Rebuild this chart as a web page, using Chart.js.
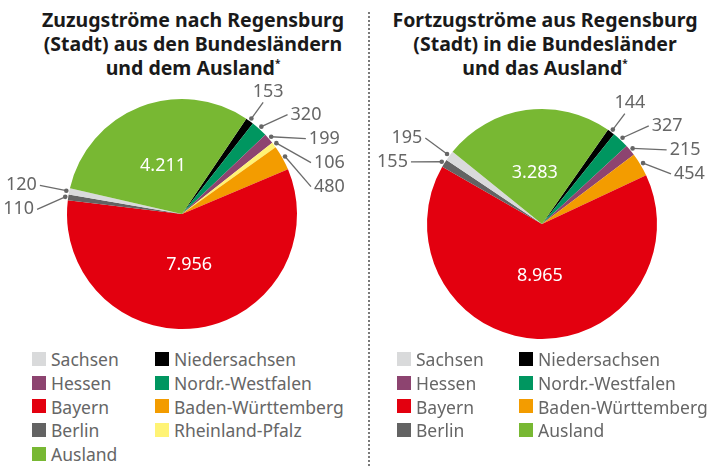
<!DOCTYPE html>
<html lang="de">
<head>
<meta charset="UTF-8">
<title>Zuzüge und Fortzüge Regensburg</title>
<script src="https://cdn.jsdelivr.net/npm/chart.js"></script>
<style>
  body { margin: 0; background: #fff; font-family: "Noto Sans", sans-serif; }
  .page { position: relative; width: 710px; height: 466px; overflow: hidden; }
  .title { position: absolute; top: 8px; font-weight: bold; font-size: 19.5px; line-height: 24px;
           color: #1a1a1a; text-align: center; }
  .title sup { font-size: 10px; vertical-align: 8px; line-height: 0; }
  .sep { position: absolute; left: 368px; top: 12px; bottom: 0; border-left: 2px dotted #7a7a7a; }
  canvas { position: absolute; }
  .legend { position: absolute; top: 347px; display: grid; grid-auto-rows: 23.8px;
            font-size: 17.5px; color: #666; }
  .legend div { display: flex; align-items: center; white-space: nowrap; }
  .legend span { display: inline-block; width: 14px; height: 14px; margin-right: 5px; }
</style>
</head>
<body>
<div class="page">
  <div class="title" style="left:0; width:386px;">Zuzugströme nach Regensburg<br>(Stadt) aus den Bundesländern<br>und dem Ausland<sup>*</sup></div>
  <div class="title" style="left:380px; width:330px;">Fortzugströme aus Regensburg<br>(Stadt) in die Bundesländer<br>und das Ausland<sup>*</sup></div>
  <div class="sep"></div>
  <canvas id="zuzug" width="364" height="260" style="left:0; top:84px;"></canvas>
  <canvas id="fortzug" width="350" height="260" style="left:360px; top:94px;"></canvas>
  <div class="legend" id="legendZuzug" style="left:32px; grid-template-columns:123px auto;"></div>
  <div class="legend" id="legendFortzug" style="left:397px; grid-template-columns:122px auto;"></div>
</div>
<script>
// Daten: Zuzüge nach Regensburg (Reihenfolge der Tortenstücke im Uhrzeigersinn)
const sliceOrderZuzug = ['Niedersachsen', 'Nordr.-Westfalen', 'Hessen', 'Rheinland-Pfalz', 'Baden-Württemberg', 'Bayern', 'Berlin', 'Sachsen', 'Ausland'];
const valuesZuzug = [153, 320, 199, 106, 480, 7956, 110, 120, 4211];

// Daten: Fortzüge aus Regensburg
const sliceOrderFortzug = ['Niedersachsen', 'Nordr.-Westfalen', 'Hessen', 'Baden-Württemberg', 'Bayern', 'Berlin', 'Sachsen', 'Ausland'];
const valuesFortzug = [144, 327, 215, 454, 8965, 155, 195, 3283];

// Legenden (zeilenweise, zwei Spalten)
const legendZuzug = ['Sachsen', 'Niedersachsen', 'Hessen', 'Nordr.-Westfalen', 'Bayern', 'Baden-Württemberg', 'Berlin', 'Rheinland-Pfalz', 'Ausland'];
const legendFortzug = ['Sachsen', 'Niedersachsen', 'Hessen', 'Nordr.-Westfalen', 'Bayern', 'Baden-Württemberg', 'Berlin', 'Ausland'];

const colors = {
  'Sachsen': '#d9dadb',
  'Niedersachsen': '#000000',
  'Hessen': '#8d4470',
  'Nordr.-Westfalen': '#009660',
  'Bayern': '#e3000f',
  'Baden-Württemberg': '#f39c00',
  'Berlin': '#636363',
  'Rheinland-Pfalz': '#fff375',
  'Ausland': '#78b833'
};

const fmt = v => String(v).replace(/\B(?=(\d{3})+(?!\d))/g, '.');

// Beschriftungen: große Stücke innen, kleine außen mit Führungslinie
const labelPlugin = {
  id: 'pieLabels',
  afterDatasetsDraw(chart) {
    const ctx = chart.ctx;
    const arcs = chart.getDatasetMeta(0).data;
    const values = chart.data.datasets[0].data;
    const total = values.reduce((a, b) => a + b, 0);
    const right = [], left = [];
    ctx.save();
    arcs.forEach((arc, i) => {
      const p = arc.getProps(['x', 'y', 'startAngle', 'endAngle', 'outerRadius'], true);
      const mid = (p.startAngle + p.endAngle) / 2;
      const r = p.outerRadius;
      if (values[i] / total > 0.15) {
        ctx.fillStyle = '#fff';
        ctx.font = '18px "Noto Sans"';
        ctx.textAlign = 'center';
        ctx.textBaseline = 'middle';
        ctx.fillText(fmt(values[i]), p.x + 0.45 * r * Math.cos(mid), p.y + 0.45 * r * Math.sin(mid));
        return;
      }
      const item = { p, mid, r, text: fmt(values[i]),
        dx: p.x + (r + 3) * Math.cos(mid), dy: p.y + (r + 3) * Math.sin(mid) };
      let fromTop = (mid + Math.PI / 2) % (2 * Math.PI);
      if (fromTop < 0) fromTop += 2 * Math.PI;
      item.fromTop = fromTop;
      if (Math.cos(mid) >= 0) right.push(item); else left.push(item);
    });

    ctx.strokeStyle = '#6b6b6b';
    ctx.fillStyle = '#666';
    ctx.lineWidth = 1.3;
    const drawLeader = (it, ex, ey) => {
      ctx.beginPath();
      ctx.moveTo(it.dx, it.dy);
      ctx.lineTo(ex, ey);
      ctx.stroke();
      ctx.beginPath();
      ctx.arc(it.dx, it.dy, 2.3, 0, 2 * Math.PI);
      ctx.fill();
    };
    ctx.font = '18px "Noto Sans"';
    ctx.textBaseline = 'middle';

    // rechte Seite
    right.sort((a, b) => a.fromTop - b.fromTop);
    let lastY = -Infinity;
    right.forEach(it => {
      const { p, r } = it;
      if (it.fromTop < 40 * Math.PI / 180) {
        const ex = p.x + (r + 23) * Math.cos(it.mid);
        const ey = p.y + (r + 23) * Math.sin(it.mid);
        drawLeader(it, ex, ey);
        ctx.textAlign = 'center';
        ctx.fillText(it.text, ex + 5, ey - 11);
        return;
      }
      let y = p.y + (r + 22) * Math.sin(it.mid) + 2;
      y = Math.max(y, lastY + 24);
      lastY = y;
      const dyc = y - p.y;
      const R2 = r + 30;
      const ex = Math.min(p.x + Math.sqrt(Math.max(R2 * R2 - dyc * dyc, 0)), p.x + r + 14);
      drawLeader(it, ex, y);
      ctx.textAlign = 'left';
      ctx.fillText(it.text, ex + 3, y);
    });

    // linke Seite
    left.forEach(it => { it.ny = it.p.y + (it.r + 30) * Math.sin(it.mid); });
    left.sort((a, b) => a.ny - b.ny);
    lastY = -Infinity;
    left.forEach(it => {
      const { p, r } = it;
      const y = Math.max(it.ny, lastY + 24);
      lastY = y;
      const dyc = y - p.y;
      const R2 = r + 30;
      const ex = p.x - Math.sqrt(Math.max(R2 * R2 - dyc * dyc, 0));
      drawLeader(it, ex, y);
      ctx.textAlign = 'right';
      ctx.fillText(it.text, ex - 3, y);
    });
    ctx.restore();
  }
};

function makePie(id, cats, vals, rotation, padding) {
  return new Chart(document.getElementById(id), {
    type: 'pie',
    data: {
      labels: cats,
      datasets: [{
        data: vals,
        backgroundColor: cats.map(c => colors[c]),
        borderWidth: 0
      }]
    },
    options: {
      responsive: false,
      animation: false,
      rotation: rotation,
      layout: { padding: padding },
      plugins: { legend: { display: false }, tooltip: { enabled: false } }
    },
    plugins: [labelPlugin]
  });
}

makePie('zuzug', sliceOrderZuzug, valuesZuzug, 34, { left: 67, right: 67, top: 15, bottom: 15 });
makePie('fortzug', sliceOrderFortzug, valuesFortzug, 35, { left: 67, right: 53, top: 15, bottom: 15 });

function buildLegend(id, items) {
  const el = document.getElementById(id);
  items.forEach(name => {
    const d = document.createElement('div');
    d.innerHTML = '<span style="background:' + colors[name] + '"></span>' + name;
    el.appendChild(d);
  });
}
buildLegend('legendZuzug', legendZuzug);
buildLegend('legendFortzug', legendFortzug);
</script>
</body>
</html>
